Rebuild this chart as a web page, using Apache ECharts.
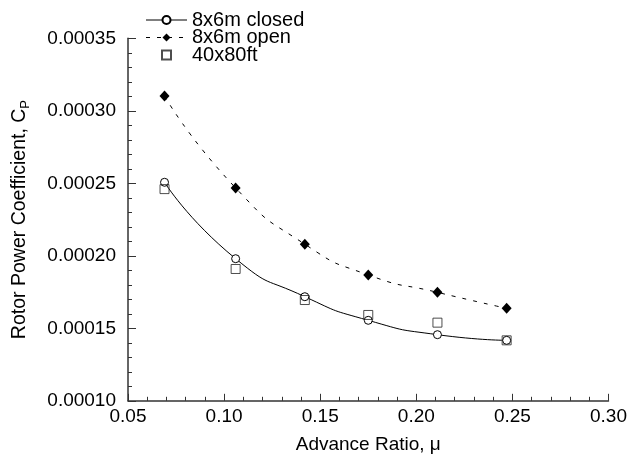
<!DOCTYPE html>
<html>
<head>
<meta charset="utf-8">
<script src="https://cdn.jsdelivr.net/npm/echarts@6/dist/echarts.min.js"></script>
<style>
  html, body { margin: 0; padding: 0; background: #fff; }
  #chart { width: 630px; height: 459px; }
</style>
</head>
<body>
<div id="chart"></div>
<script>
// Advance ratio of each test point (shared by all three data sets)
const advanceRatio = [0.069, 0.106, 0.142, 0.175, 0.211, 0.247];

// Rotor power coefficient, CP
const closed8x6 = [0.0002507, 0.0001980, 0.0001718, 0.0001555, 0.0001456, 0.0001417];
const open8x6   = [0.0003102, 0.0002468, 0.0002080, 0.0001868, 0.0001748, 0.0001638];
const ft40x80   = [0.0002460, 0.0001909, 0.0001695, 0.0001592, 0.0001539, 0.0001417];

const seriesNames = ['8x6m closed', '8x6m open', '40x80ft'];

const pairs = ys => advanceRatio.map((x, i) => [x, ys[i]]);

const FONT = '"Liberation Sans", Arial, Helvetica, sans-serif';
const AXIS_COLOR = '#333';

// Legend icon for the scatter set: a small open square centred in the icon box
const squareIcon = 'path://M0,0L0.001,0M41,10L40.999,10M16,0.5H25V9.5H16Z';

const chart = echarts.init(document.getElementById('chart'), null, { renderer: 'canvas' });

chart.setOption({
  animation: false,
  backgroundColor: '#fff',
  textStyle: { fontFamily: FONT, color: '#000' },
  grid: { left: 123, right: 19, top: 38.3, bottom: 58.2 },
  legend: {
    orient: 'vertical',
    left: 145,
    top: 10,
    padding: 0,
    itemWidth: 41,
    itemHeight: 10,
    itemGap: -2.5,
    lineStyle: { width: 1 },
    textStyle: { fontFamily: FONT, fontSize: 20, color: '#000', lineHeight: 18 },
    data: [
      { name: seriesNames[0] },
      { name: seriesNames[1] },
      { name: seriesNames[2], icon: squareIcon }
    ]
  },
  xAxis: {
    type: 'value',
    min: 0.05,
    max: 0.30,
    interval: 0.05,
    name: 'Advance Ratio, μ',
    nameLocation: 'middle',
    nameGap: 34,
    nameTextStyle: { fontFamily: FONT, fontSize: 19, color: '#000' },
    axisLine: { show: true, lineStyle: { color: AXIS_COLOR, width: 1.5 } },
    axisTick: { show: true, inside: true, length: 7, lineStyle: { color: AXIS_COLOR, width: 1 } },
    minorTick: { show: true, splitNumber: 5, length: 4, lineStyle: { color: AXIS_COLOR, width: 1 } },
    splitLine: { show: false },
    axisLabel: {
      fontFamily: FONT, fontSize: 19, color: '#000', margin: 6,
      formatter: v => v.toFixed(2)
    }
  },
  yAxis: {
    type: 'value',
    min: 0.00010,
    max: 0.00035,
    interval: 0.00005,
    name: 'Rotor Power Coefficient, C{s|P}',
    nameLocation: 'middle',
    nameGap: 96,
    nameTextStyle: {
      fontFamily: FONT, fontSize: 19.5, color: '#000', lineHeight: 24,
      rich: { s: { fontFamily: FONT, fontSize: 13, color: '#000', lineHeight: 13, verticalAlign: 'bottom' } }
    },
    axisLine: { show: true, lineStyle: { color: AXIS_COLOR, width: 1.5 } },
    axisTick: { show: true, inside: true, length: 8, lineStyle: { color: AXIS_COLOR, width: 1 } },
    minorTick: { show: true, splitNumber: 5, length: 4, lineStyle: { color: AXIS_COLOR, width: 1 } },
    splitLine: { show: false },
    axisLabel: {
      fontFamily: FONT, fontSize: 19, color: '#000', margin: 12,
      formatter: v => v.toFixed(5)
    }
  },
  series: [
    {
      name: seriesNames[0],
      type: 'line',
      smooth: 0.6,
      data: pairs(closed8x6),
      symbol: 'circle',
      symbolSize: 8,
      lineStyle: { color: '#000', width: 1 },
      itemStyle: { color: '#fff', borderColor: '#000', borderWidth: 1 },
      z: 2
    },
    {
      name: seriesNames[1],
      type: 'line',
      smooth: 0.6,
      data: pairs(open8x6),
      symbol: 'diamond',
      symbolSize: [10, 11],
      lineStyle: { color: '#000', width: 1, type: [4, 7] },
      itemStyle: { color: '#000' },
      z: 2
    },
    {
      name: seriesNames[2],
      type: 'scatter',
      data: pairs(ft40x80),
      symbol: 'rect',
      symbolSize: 9,
      itemStyle: { color: 'rgba(255,255,255,0)', borderColor: '#222', borderWidth: 1 },
      z: 3
    }
  ]
});
</script>
</body>
</html>
